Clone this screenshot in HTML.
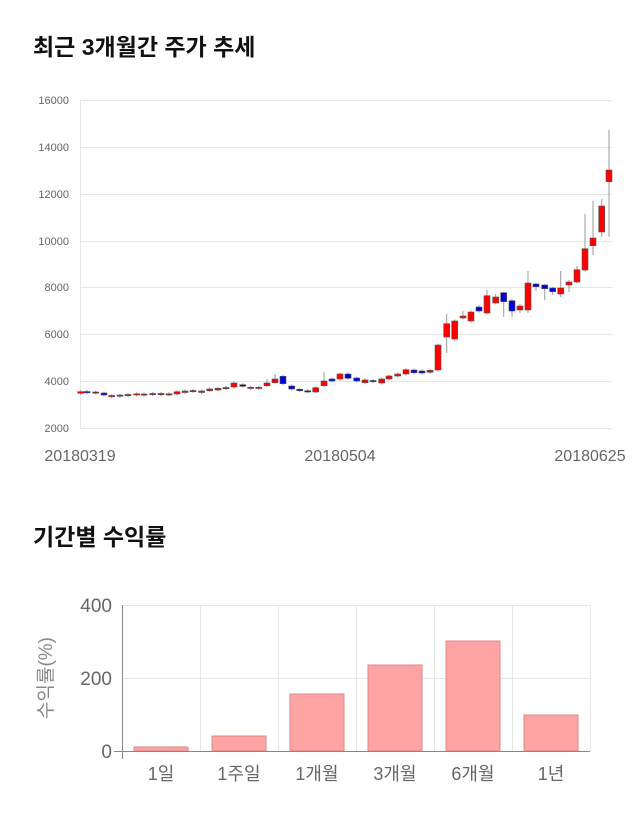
<!DOCTYPE html>
<html><head><meta charset="utf-8"><style>
body{margin:0;background:#fff;width:640px;height:810px;overflow:hidden;font-family:"Liberation Sans","Noto Sans CJK KR",sans-serif}
</style></head><body>
<svg id="s" width="640" height="810" xmlns="http://www.w3.org/2000/svg" font-family="Liberation Sans, Noto Sans CJK KR, sans-serif">
<text x="33" y="55" font-size="23" font-weight="bold" fill="#111">최근 3개월간 주가 추세</text>
<g stroke="#e6e6e6" stroke-width="1">
<line x1="80" x2="612" y1="100.5" y2="100.5"/><line x1="80" x2="612" y1="147.5" y2="147.5"/>
<line x1="80" x2="612" y1="194.5" y2="194.5"/><line x1="80" x2="612" y1="241.5" y2="241.5"/>
<line x1="80" x2="612" y1="287.5" y2="287.5"/><line x1="80" x2="612" y1="334.5" y2="334.5"/>
<line x1="80" x2="612" y1="381.5" y2="381.5"/><line x1="80" x2="612" y1="428.5" y2="428.5"/>
<line x1="80.5" x2="80.5" y1="100" y2="428"/>
</g>
<g font-size="11" fill="#666" text-anchor="end">
<text x="69" y="104">16000</text><text x="69" y="151">14000</text><text x="69" y="198">12000</text>
<text x="69" y="245">10000</text><text x="69" y="291">8000</text><text x="69" y="338">6000</text>
<text x="69" y="385">4000</text><text x="69" y="432">2000</text>
</g>
<g font-size="16" fill="#666" text-anchor="middle">
<text x="80" y="461">20180319</text><text x="340" y="461">20180504</text><text x="590" y="461">20180625</text>
</g>
<g id="c"></g>

<text x="33" y="545" font-size="23" font-weight="bold" fill="#111">기간별 수익률</text>
<g stroke="#e6e6e6">
<line x1="122" x2="590" y1="605.5" y2="605.5"/><line x1="122" x2="590" y1="678.5" y2="678.5"/>
<line x1="200.5" x2="200.5" y1="605" y2="751"/><line x1="278.5" x2="278.5" y1="605" y2="751"/>
<line x1="356.5" x2="356.5" y1="605" y2="751"/><line x1="434.5" x2="434.5" y1="605" y2="751"/>
<line x1="512.5" x2="512.5" y1="605" y2="751"/><line x1="590.5" x2="590.5" y1="605" y2="751"/>
</g>
<g fill="#ffa4a4" stroke="#d88" stroke-width="1">
<rect x="134" y="747" width="54" height="4"/>
<rect x="212" y="736" width="54" height="15"/>
<rect x="290" y="694" width="54" height="57"/>
<rect x="368" y="665" width="54" height="86"/>
<rect x="446" y="641" width="54" height="110"/>
<rect x="524" y="715" width="54" height="36"/>
</g>
<line x1="122.5" x2="122.5" y1="605" y2="759" stroke="#888"/>
<line x1="114" x2="590" y1="751.5" y2="751.5" stroke="#888"/>
<g font-size="19" fill="#666" text-anchor="end">
<text x="112" y="612">400</text><text x="112" y="685">200</text><text x="112" y="758">0</text>
</g>
<text transform="translate(52,678) rotate(-90)" font-size="19" fill="#888" text-anchor="middle">수익률(%)</text>
<g font-size="18" fill="#666" text-anchor="middle">
<text x="161" y="780">1일</text><text x="239" y="780">1주일</text><text x="317" y="780">1개월</text>
<text x="395" y="780">3개월</text><text x="473" y="780">6개월</text><text x="551" y="780">1년</text>
</g>
</svg>
<script>
var d=[
[80.7,391.7,393.3,'r'],[87,391.5,392.8,'b'],[95.7,392,393,'k'],[104,393,395,'b'],[111.7,395.5,396.8,'r'],
[120,395,396.3,'r'],[128,394.5,395.5,'k'],[136.7,393.8,395,'r'],[144,394,395,'k'],[152.7,393.5,394.5,'k'],
[161,393.5,394.5,'k'],[169,393.8,394.8,'k'],[177,391.7,394,'r'],[185,391,392.5,'r'],[193,390.5,391.5,'k'],
[201.7,391,392.5,'r'],[209.7,389,390.7,'r'],[218,388.3,390,'r'],[226,387.5,388.5,'k'],[234,383,387,'r'],
[242.7,384.7,386.3,'b'],[250.7,387.3,388.3,'r'],[258.7,387.3,388.3,'r'],[267,383,385.7,'r',379],[275,379,382.7,'r',374],
[283,376.3,383.7,'b'],[291.7,386,389,'b'],[299.7,389.3,390.7,'b'],[307.7,390.7,392,'b'],[315.7,387.7,392,'r'],
[324,381,385.7,'r',372],[332,379,381,'b'],[340,374,379,'r'],[348,374,378.3,'b'],
[356.7,378,381,'b'],[365,380,382.7,'r'],[373,380.5,381.5,'b'],[381.7,379,383,'r'],[389,376,379,'r'],
[397.7,374,376,'r'],[406,369.7,374,'r'],[414,370,372.7,'b'],[422,371,373,'b'],[430,370.3,372.3,'r'],
[438,345,370,'r'],[446.7,323.7,337,'r',314,353],[454.7,321,339,'r'],[463,316,318,'r',311],[471,312,321,'r'],
[479,307,311,'b'],[487,295.7,313,'r',290],[495.7,297,303,'r',294],[503.7,292.7,301.7,'b',292,317],[512,300.7,311,'b',299,317],
[520,306,310,'r',304,313],[528,283,310,'r',271,313],[536,284,286.7,'b',283,291],[544.7,285,288.7,'b',284,300],[552.7,288,291.7,'b',287,295],
[560.7,288,294,'r',271,297],[569,282,285,'r',280,292],[577,269.7,282,'r',266],[585,248.7,270,'r',213.7],[593,238,245.7,'r',200.7,255],
[601.7,206,232,'r',199,237],[609,170,181.7,'r',130,236.7]];
var g=document.getElementById('c'),h='';
d.forEach(function(c){var col=c[3]=='r'?'#ff0000':c[3]=='b'?'#0000e0':'#772222';
var wt=c[4]||c[1]-1.5,wb=c[5]||c[2]+1.5;
h+='<line x1="'+c[0]+'" x2="'+c[0]+'" y1="'+wt+'" y2="'+wb+'" stroke="#999"/>';
h+='<rect x="'+(c[0]-3)+'" y="'+c[1]+'" width="6" height="'+Math.max(1.2,c[2]-c[1])+'" fill="'+col+'" stroke="#555" stroke-width="0.6"/>';});
g.innerHTML=h;
</script>
</body></html>
